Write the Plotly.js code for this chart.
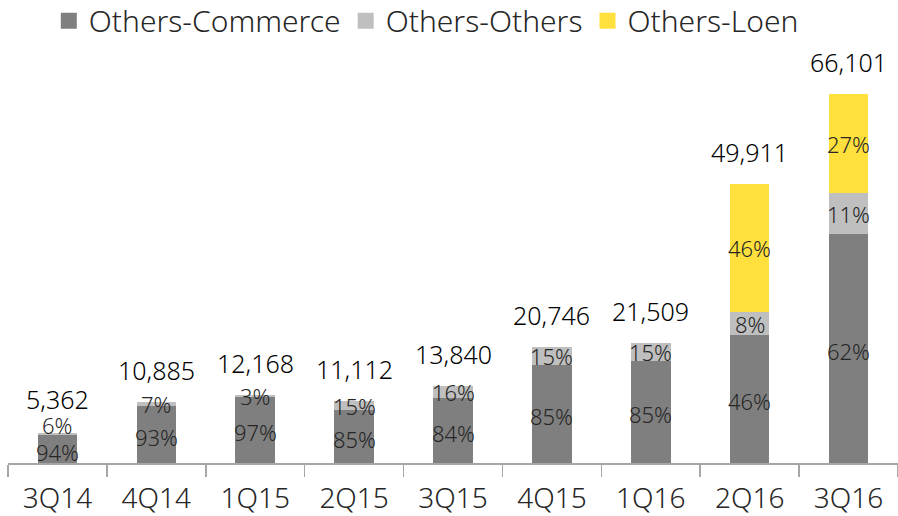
<!DOCTYPE html>
<html>
<head>
<meta charset="utf-8">
<script src="https://cdn.plot.ly/plotly-3.0.1.min.js"></script>
<style>html,body{margin:0;padding:0;background:#fff;}#chart{width:898px;height:516px;}</style>
</head>
<body>
<div id="chart"></div>
<script>
const quarters = ['3Q14','4Q14','1Q15','2Q15','3Q15','4Q15','1Q16','2Q16','3Q16'];
const totals = [5362, 10885, 12168, 11112, 13840, 20746, 21509, 49911, 66101];
const commercePct = [94, 93, 97, 85, 84, 85, 85, 46, 62];
const othersPct = [6, 7, 3, 15, 16, 15, 15, 8, 11];
const loenPct = [0, 0, 0, 0, 0, 0, 0, 46, 27];
const seriesNames = ['Others-Commerce', 'Others-Others', 'Others-Loen'];
const seriesColors = ['#7f7f7f', '#bfbfbf', '#ffe03c'];

const W = 898, H = 516;
const M = {l: 8, r: 0, t: 72, b: 53};
const yMax = 70000;
const pxPer = (H - M.t - M.b) / yMax;
const FONT = '"Noto Sans", "Open Sans", sans-serif';

const commerce = totals.map((t, i) => t * commercePct[i] / 100);
const others = totals.map((t, i) => t * othersPct[i] / 100);
const loen = totals.map((t, i) => t * loenPct[i] / 100);

const segs = [commerce, others, loen];
const traces = segs.map((vals, k) => ({
  type: 'bar',
  name: seriesNames[k],
  x: quarters,
  y: vals,
  showlegend: false,
  marker: {color: seriesColors[k], line: {width: 0}},
  hoverinfo: 'skip'
}));
// legend-only entries with larger square swatches
seriesNames.forEach((n, k) => traces.push({
  type: 'scatter', mode: 'markers', name: n,
  x: [quarters[0]], y: [null],
  marker: {symbol: 'square', size: 16, color: seriesColors[k]},
  showlegend: true, hoverinfo: 'skip'
}));

const annotations = [];
const pctFont = {family: FONT, size: 22, color: '#262626', weight: 300};
quarters.forEach((q, i) => {
  const cMid = commerce[i] / 2;
  const oMid = commerce[i] + others[i] / 2;
  const crowded = (oMid - cMid) * pxPer < 24;
  annotations.push({x: q, y: cMid, text: commercePct[i] + '%', showarrow: false,
    xref: 'x', yref: 'y', yanchor: 'middle', yshift: crowded ? -3 : -2, font: pctFont});
  const dist = (oMid - cMid) * pxPer + 2;
  let oShift = 2;
  if (crowded) oShift = 28 - dist;
  if (othersPct[i] > 0) {
    annotations.push({x: q, y: oMid, text: othersPct[i] + '%', showarrow: false,
      xref: 'x', yref: 'y', yanchor: 'middle', yshift: -2 + oShift, font: pctFont});
  }
  if (loenPct[i] > 0) {
    annotations.push({x: q, y: commerce[i] + others[i] + loen[i] / 2, text: loenPct[i] + '%', showarrow: false,
      xref: 'x', yref: 'y', yanchor: 'middle', font: pctFont});
  }
  annotations.push({x: q, y: totals[i], text: totals[i].toLocaleString('en-US'), showarrow: false,
    xref: 'x', yref: 'y', yanchor: 'middle', yshift: crowded ? 34 : 32,
    font: {family: FONT, size: 25, color: '#000', weight: 300}});
});

const layout = {
  width: W, height: H,
  margin: M,
  barmode: 'stack',
  bargap: 0.6,
  paper_bgcolor: '#fff',
  plot_bgcolor: '#fff',
  font: {family: FONT, color: '#262626'},
  showlegend: true,
  legend: {orientation: 'h', x: 0.47, xanchor: 'center', yref: 'container', y: 0.96, yanchor: 'middle',
    font: {family: FONT, size: 30, color: '#262626', weight: 300}, traceorder: 'normal',
    itemsizing: 'trace', bgcolor: 'rgba(0,0,0,0)'},
  xaxis: {type: 'category', range: [-0.5, quarters.length - 0.5], autorange: false,
    showline: true, linecolor: '#a6a6a6', linewidth: 1.5,
    ticks: 'outside', tickson: 'boundaries', ticklen: 12, tickcolor: '#a6a6a6', tickwidth: 1.5,
    ticklabelstandoff: 10,
    tickfont: {family: FONT, size: 28, color: '#262626', weight: 300}, showgrid: false, zeroline: false, fixedrange: true},
  yaxis: {range: [0, yMax], visible: false, showgrid: false, zeroline: false, fixedrange: true},
  annotations: annotations,
  hovermode: false
};

Plotly.newPlot('chart', traces, layout, {displayModeBar: false, staticPlot: true});
</script>
</body>
</html>
